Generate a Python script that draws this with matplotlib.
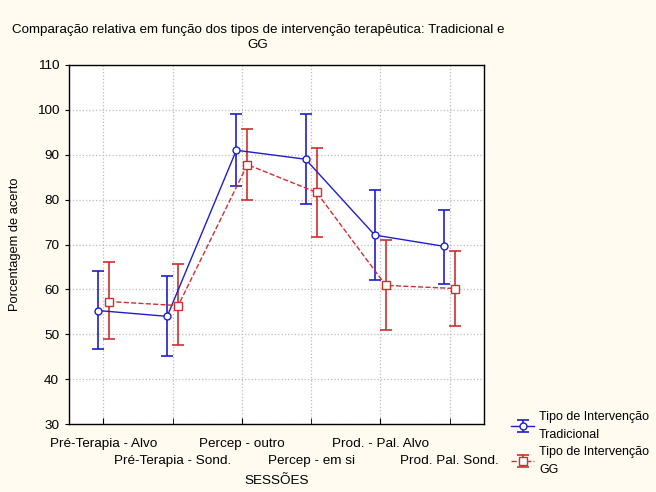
import numpy as np
import matplotlib.pyplot as plt

plt.rcParams['font.family'] = ['Liberation Sans', 'DejaVu Sans']

sessoes = ['Pré-Terapia - Alvo', 'Pré-Terapia - Sond.', 'Percep - outro',
           'Percep - em si', 'Prod. - Pal. Alvo', 'Prod. Pal. Sond.']

# Tipo de Intervenção Tradicional
trad_media = [55.3, 54.0, 91.0, 89.0, 72.1, 69.6]
trad_inf = [46.7, 45.1, 83.0, 79.0, 62.2, 61.3]
trad_sup = [64.0, 63.1, 99.0, 99.0, 82.2, 77.8]

# Tipo de Intervenção GG
gg_media = [57.3, 56.4, 87.8, 81.6, 60.9, 60.2]
gg_inf = [48.9, 47.6, 80.0, 71.6, 50.9, 51.8]
gg_sup = [66.1, 65.6, 95.8, 91.6, 70.9, 68.6]

azul = '#1f1fc8'
vermelho = '#cc3030'

fig = plt.figure(figsize=(6.56, 4.92), dpi=100, facecolor='#fffbf1')
ax = fig.add_axes([0.105, 0.138, 0.633, 0.730])

x = np.arange(len(sessoes))
m1 = np.array(trad_media)
m2 = np.array(gg_media)
err1 = [m1 - np.array(trad_inf), np.array(trad_sup) - m1]
err2 = [m2 - np.array(gg_inf), np.array(gg_sup) - m2]

ax.errorbar(x - 0.08, m1, yerr=err1, color=azul, lw=1, elinewidth=1.2,
            capsize=4, capthick=1.2, marker='o', ms=5, mfc='white', mec=azul,
            label='Tipo de Intervenção\nTradicional', zorder=3)
ax.errorbar(x + 0.08, m2, yerr=err2, color=vermelho, lw=1, ls='--',
            elinewidth=1.2, capsize=4, capthick=1.2, marker='s', ms=6,
            mfc='white', mec=vermelho, label='Tipo de Intervenção\nGG', zorder=3)

ax.set_xlim(-0.5, 5.5)
ax.set_ylim(30, 110)
ax.set_yticks(range(30, 111, 10))
# rótulos alternados em duas linhas
ax.set_xticks(x[::2])
ax.set_xticklabels(sessoes[::2], fontsize=9.7)
ax.set_xticks(x[1::2], minor=True)
ax.set_xticklabels(sessoes[1::2], minor=True, fontsize=9.7)
ax.tick_params(axis='x', which='major', direction='in', length=4, pad=10)
ax.tick_params(axis='x', which='minor', direction='in', length=4, pad=22)
ax.tick_params(axis='y', direction='out', length=3, labelsize=9.7, pad=4)
ax.grid(True, which='both', axis='x', ls=':', color='#bbbbbb', lw=0.9)
ax.grid(True, axis='y', ls=':', color='#bbbbbb', lw=0.9)
ax.set_axisbelow(True)
for s in ax.spines.values():
    s.set_linewidth(1)

ax.set_xlabel('SESSÕES', fontsize=9.7, labelpad=6)
ax.set_ylabel('Porcentagem de acerto', fontsize=9.3, labelpad=11)

fig.text(0.393, 0.952, 'Comparação relativa em função dos tipos de intervenção terapêutica: Tradicional e\nGG',
         ha='center', va='top', fontsize=9.6, linespacing=1.35)

leg = fig.legend(loc='upper left', bbox_to_anchor=(0.772, 0.174), frameon=False,
                 fontsize=9, handlelength=1.8, handletextpad=0.4,
                 labelspacing=0.45, borderaxespad=0)
for t in leg.get_texts():
    t.set_linespacing(1.6)

fig.savefig('out.png', dpi=100, facecolor=fig.get_facecolor())
